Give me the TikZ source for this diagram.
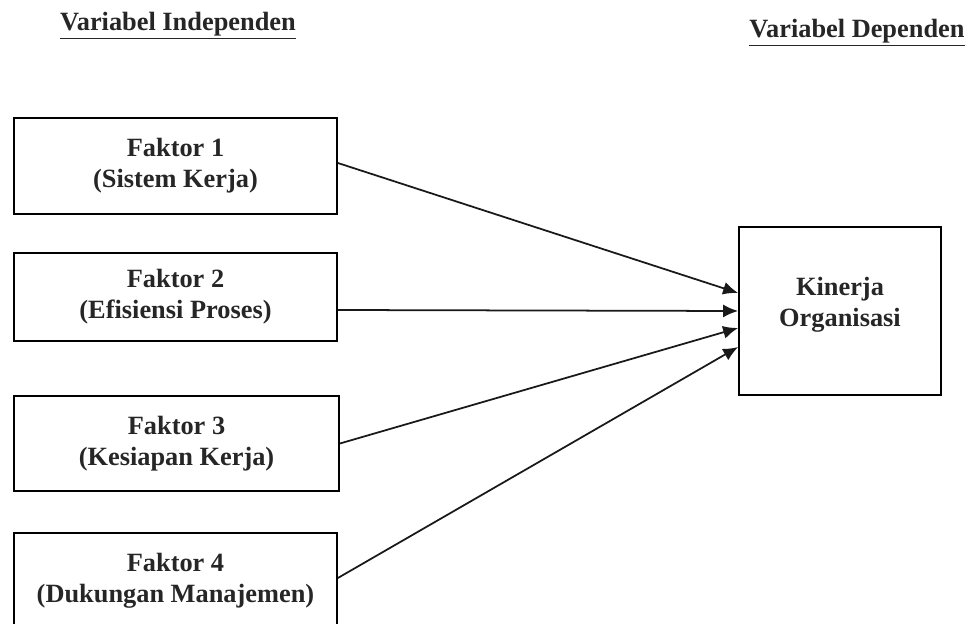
\documentclass[tikz,border=0pt]{standalone}
\usepackage{fontspec}
\setmainfont{Liberation Serif}
\usetikzlibrary{arrows.meta}

\tikzset{
	faktor/.style={draw, line width=1pt, align=center, inner sep=0pt,
		font=\bfseries\fontsize{15}{17.5}\selectfont, text=black!85},
	tulisan/.style={align=center, font=\bfseries\fontsize{15}{17.5}\selectfont, text=black!85},
	panah/.style={line width=1pt, -{Latex[length=3mm,width=2.6mm]}},
	judul/.style={font=\bfseries\fontsize{15}{17.5}\selectfont, text=black!85}
}

\begin{document}
\begin{tikzpicture}

\def\LINECOLOR{black!90}
	\useasboundingbox (0,0) rectangle (19.42,12.46);
	% judul
	\node[judul] (indep) at (3.56,11.95) {\underline{Variabel Independen}};
	\node[judul] (dep) at (17.14,11.8) {\underline{Variabel Dependen}};
	% variabel independen
	\node[faktor, minimum width=6.46cm, minimum height=1.92cm] (f1) at (3.51,9.14) {Faktor 1\\(Sistem Kerja)};
	\node[faktor, minimum width=6.46cm, minimum height=1.76cm] (f2) at (3.51,6.52) {Faktor 2\\(Efisiensi Proses)};
	\node[faktor, minimum width=6.50cm, minimum height=1.90cm] (f3) at (3.53,3.59) {Faktor 3\\(Kesiapan Kerja)};
	\node[faktor, minimum width=6.46cm, minimum height=1.92cm] (f4) at (3.51,0.84) {Faktor 4\\(Dukungan Manajemen)};
	% variabel dependen
	\node[faktor, minimum width=4.04cm, minimum height=3.36cm] (kin) at (16.8,6.24) {};
	\node[tulisan] (kintext) at ([yshift=0.13cm]kin.center) {Kinerja\\Organisasi};
	% panah
	\draw[panah, \LINECOLOR] ([yshift=0.06cm]f1.east) -- ([yshift=0.36cm]kin.west);
	\draw[panah, \LINECOLOR] ([yshift=-0.26cm]f2.east) -- ([yshift=0cm]kin.west);
	\draw[panah, \LINECOLOR] (f3.east) -- ([yshift=-0.34cm]kin.west);
	\draw[panah, \LINECOLOR] ([yshift=0.06cm]f4.east) -- ([yshift=-0.72cm]kin.west);

\end{tikzpicture}
\end{document}
